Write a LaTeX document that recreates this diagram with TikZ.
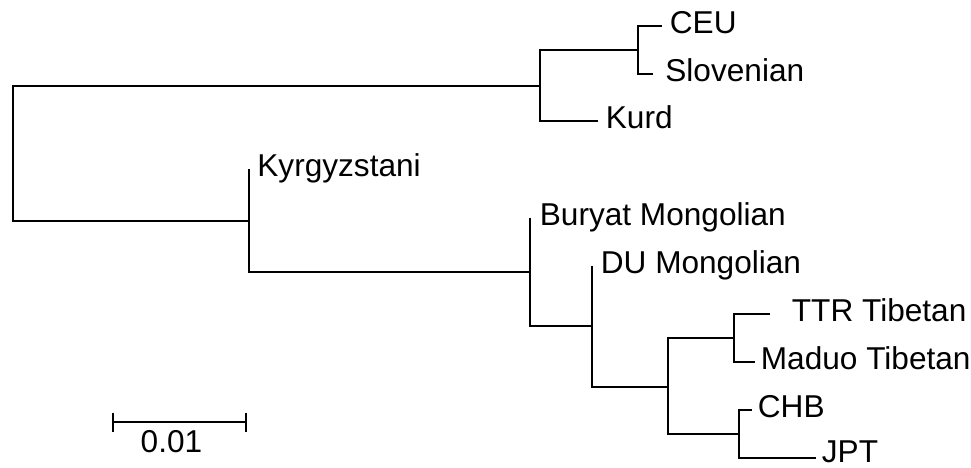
\documentclass[tikz,border=0pt]{standalone}
\usepackage{fontspec}
\setmainfont{Liberation Sans}
\usetikzlibrary{positioning}

\tikzset{
  branch/.style={line width=1pt, line join=miter},
  taxon/.style={anchor=base west, inner sep=0pt, font=\fontsize{15.8}{19}\selectfont},
}

\begin{document}
\begin{tikzpicture}[x=0.5pt, y=-0.5pt]
  \useasboundingbox (0,0) rectangle (971,467);

  \coordinate (root) at (13,153.5);
  \coordinate (nA) at (540,86);
  \coordinate (nB) at (638,50);
  \coordinate (nC) at (249,221);
  \coordinate (nD) at (530,272);
  \coordinate (nE) at (592,326);
  \coordinate (nF) at (668,387);
  \coordinate (nG) at (734,338);
  \coordinate (nH) at (739,434);

  \coordinate (tCEU) at (662,26);
  \coordinate (tSlo) at (653,74);
  \coordinate (tKur) at (598,121);
  \coordinate (tKyr) at (249,169);
  \coordinate (tBur) at (530,218);
  \coordinate (tDU)  at (592,266);
  \coordinate (tTTR) at (770,314);
  \coordinate (tMad) at (755,362);
  \coordinate (tCHB) at (752,410);
  \coordinate (tJPT) at (816,458);

  \node (CEU) [taxon] at (669.5,33.5) {CEU};
  \node (Slo) [taxon] at (665,81.5) {Slovenian};
  \node (Kur) [taxon] at (605.5,128.5) {Kurd};
  \node (Kyr) [taxon] at (257,176.5) {Kyrgyzstani};
  \node (Bur) [taxon] at (539.5,225) {Buryat Mongolian};
  \node (DU)  [taxon] at (600.5,273.5) {DU Mongolian};
  \node (TTR) [taxon] at (791.5,321.5) {TTR Tibetan};
  \node (Mad) [taxon] at (760.5,369.5) {Maduo Tibetan};
  \node (CHB) [taxon] at (757.5,417.5) {CHB};
  \node (JPT) [taxon] at (821.5,462) {JPT};

  \draw [branch] (root) |- (nA);
  \draw [branch] (root) |- (nC);
  \draw [branch] (nA) |- (nB);
  \draw [branch] (nA) |- (tKur);
  \draw [branch] (nB) |- (tCEU);
  \draw [branch] (nB) |- (tSlo);
  \draw [branch] (nC) |- (tKyr);
  \draw [branch] (nC) |- (nD);
  \draw [branch] (nD) |- (tBur);
  \draw [branch] (nD) |- (nE);
  \draw [branch] (nE) |- (tDU);
  \draw [branch] (nE) |- (nF);
  \draw [branch] (nF) |- (nG);
  \draw [branch] (nF) |- (nH);
  \draw [branch] (nG) |- (tTTR);
  \draw [branch] (nG) |- (tMad);
  \draw [branch] (nH) |- (tCHB);
  \draw [branch] (nH) |- (tJPT);

  \coordinate (barL) at (113,422);
  \coordinate (barR) at (246,422);
  \draw [branch] (barL) -- (barR);
  \draw [branch] ([yshift=4.75pt]barL) -- ([yshift=-5pt]barL);
  \draw [branch] ([yshift=4.75pt]barR) -- ([yshift=-5pt]barR);
  \node (scale) [taxon, anchor=base] at (171.5,452) {0.01};
\end{tikzpicture}
\end{document}
